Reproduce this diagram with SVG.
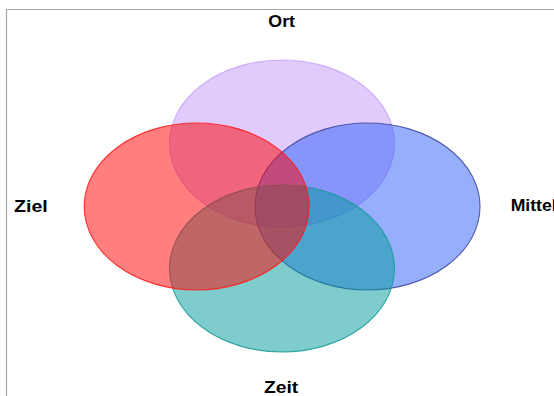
<svg xmlns="http://www.w3.org/2000/svg" width="554" height="396" viewBox="0 0 554 396">
<style>
.set{stroke-width:1.1;stroke-opacity:0.85}
.lbl{font-family:"Liberation Sans",Arial,sans-serif;font-weight:bold;font-size:16px;fill:#000}
</style>
<rect x="0" y="0" width="554" height="396" fill="#fff"/>
<path d="M6.5 396 V9.5 H554" fill="none" stroke="#a6a6a6" stroke-width="1.2"/>
<g id="node-ort">
<ellipse class="set" cx="282" cy="143.5" rx="112.5" ry="83.5" fill="#c197f9" fill-opacity="0.5" stroke="#c9a2f8"/>
<text class="lbl" x="268.3" y="27.3" textLength="26.7" lengthAdjust="spacingAndGlyphs">Ort</text>
</g>
<g id="node-mittel">
<ellipse class="set" cx="367.5" cy="206.5" rx="112.5" ry="83.5" fill="#2d5ff9" fill-opacity="0.5" stroke="#40449a"/>
<text class="lbl" x="510.7" y="210.7" textLength="46" lengthAdjust="spacingAndGlyphs">Mittel</text>
</g>
<g id="node-zeit">
<ellipse class="set" cx="282" cy="268.5" rx="112.5" ry="83.5" fill="#009999" fill-opacity="0.5" stroke="#1a9a9a"/>
<text class="lbl" x="264" y="393" textLength="34.3" lengthAdjust="spacingAndGlyphs">Zeit</text>
</g>
<g id="node-ziel">
<ellipse class="set" cx="196.7" cy="206.5" rx="112.5" ry="83.5" fill="#ff0000" fill-opacity="0.5" stroke="#ff1a1a"/>
<text class="lbl" x="14" y="211.7" textLength="33.7" lengthAdjust="spacingAndGlyphs">Ziel</text>
</g>
<g id="connectors"/>
</svg>
